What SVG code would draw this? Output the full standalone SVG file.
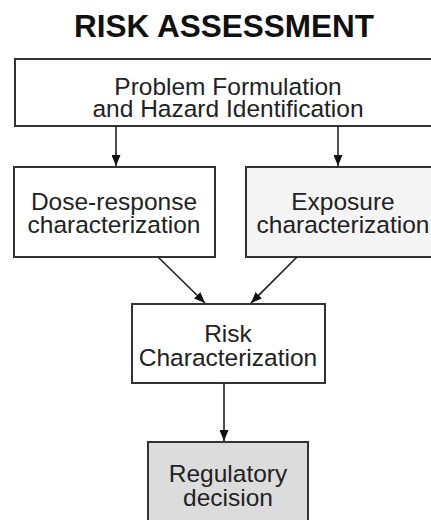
<svg xmlns="http://www.w3.org/2000/svg" width="431" height="520" viewBox="0 0 431 520">
  <defs>
    <marker id="arrow" viewBox="0 0 11 9" refX="11" refY="4.5" markerWidth="11" markerHeight="9" markerUnits="userSpaceOnUse" orient="auto">
      <path d="M0,0 L11,4.5 L0,9 Z" fill="#111"/>
    </marker>
    <style>
      .box { stroke: #333; stroke-width: 2; fill: #fff; }
      .label { font-family: "Liberation Sans", Arial, sans-serif; font-size: 24.5px; fill: #222; text-anchor: middle; }
      .title { font-family: "Liberation Sans", Arial, sans-serif; font-size: 31.5px; font-weight: bold; fill: #111; text-anchor: middle; }
      .edge { stroke: #222; stroke-width: 1.6; fill: none; marker-end: url(#arrow); }
    </style>
  </defs>
  <rect width="431" height="520" fill="#fff"/>

  <text class="title" x="224" y="37">RISK ASSESSMENT</text>

  <g id="problem">
    <rect class="box" x="15" y="59" width="430" height="67"/>
    <text class="label" x="228" y="95">Problem Formulation</text>
    <text class="label" x="228" y="117">and Hazard Identification</text>
  </g>

  <g id="dose">
    <rect class="box" x="14" y="167" width="201" height="90"/>
    <text class="label" x="114" y="210">Dose-response</text>
    <text class="label" x="114" y="233">characterization</text>
  </g>

  <g id="exposure">
    <rect class="box" x="246" y="167" width="200" height="90" style="fill:#f4f4f4"/>
    <text class="label" x="343" y="210">Exposure</text>
    <text class="label" x="343" y="233">characterization</text>
  </g>

  <g id="risk">
    <rect class="box" x="132" y="304" width="193" height="79"/>
    <text class="label" x="228" y="342">Risk</text>
    <text class="label" x="228" y="366">Characterization</text>
  </g>

  <g id="decision">
    <rect class="box" x="148" y="442" width="160" height="90" style="fill:#dcdcdc"/>
    <text class="label" x="228" y="482">Regulatory</text>
    <text class="label" x="228" y="506">decision</text>
  </g>

  <g id="connectors">
    <line class="edge" x1="116" y1="126" x2="116" y2="166"/>
    <line class="edge" x1="338" y1="126" x2="338" y2="166"/>
    <line class="edge" x1="158" y1="257" x2="205" y2="303"/>
    <line class="edge" x1="297" y1="257" x2="251" y2="303"/>
    <line class="edge" x1="224" y1="383" x2="224" y2="441"/>
  </g>
</svg>
